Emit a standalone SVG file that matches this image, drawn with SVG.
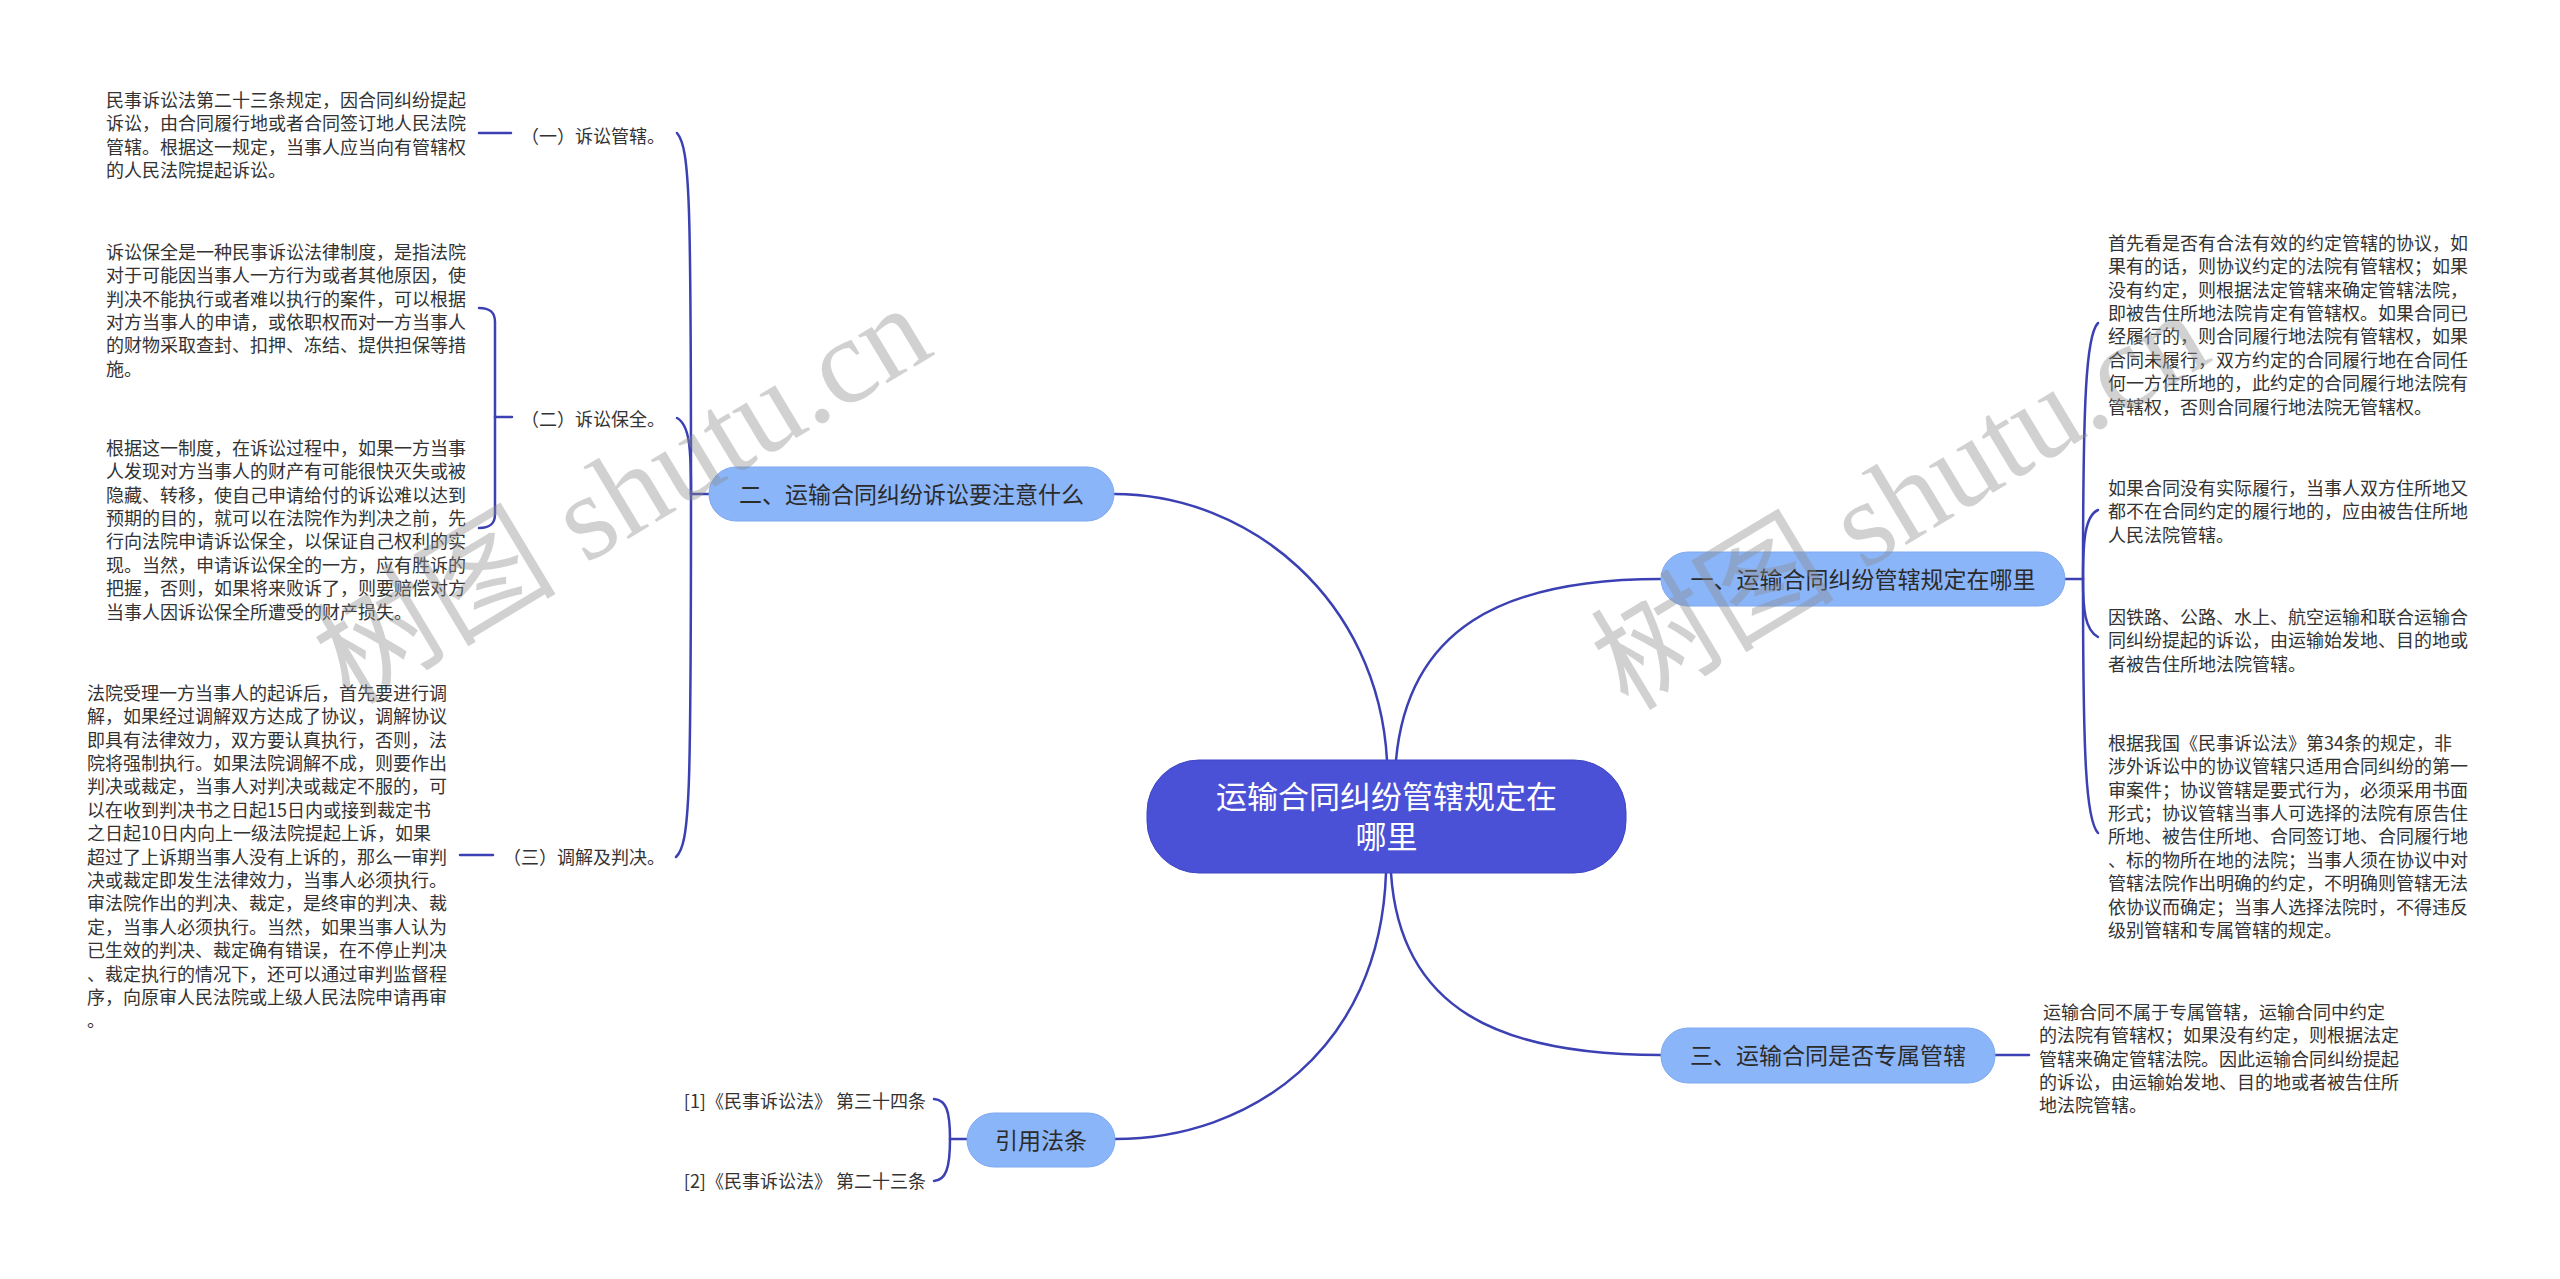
<svg xmlns="http://www.w3.org/2000/svg" width="2560" height="1279" viewBox="0 0 2560 1279">
<style>
.bg{fill:#ffffff}
.c{fill:none;stroke:#3b40b3;stroke-width:2.5;stroke-linecap:round}
.main{fill:#4a51d6;stroke:#3f46c4;stroke-width:1}
.sub{fill:#8bb5f9;stroke:#7ea9ef;stroke-width:1}
.t{font-family:"Noto Sans CJK SC","Noto Sans",sans-serif;font-size:18px;fill:#333333}
.nt{font-family:"Noto Sans CJK SC","Noto Sans",sans-serif;font-size:23px;fill:#2b2b2b;text-anchor:middle}
.mt{font-family:"Noto Sans CJK SC","Noto Sans",sans-serif;font-size:31px;fill:#ffffff;text-anchor:middle}
.wm{font-family:"Liberation Serif","Noto Sans CJK SC",serif;font-size:122px;fill:#8c8c8c;fill-opacity:0.4}
</style>
<rect class="bg" x="0" y="0" width="2560" height="1279"/>

<g id="connectors">
  <!-- center to level 1 -->
  <path class="c" d="M1387 760 C1378 600,1250 494,1114 494"/>
  <path class="c" d="M1396 760 C1408 630,1500 579,1661 579"/>
  <path class="c" d="M1391 873 C1400 1010,1500 1055,1661 1055"/>
  <path class="c" d="M1386 873 C1380 1050,1250 1139,1115 1139"/>
  <!-- node 二 bracket -->
  <path class="c" d="M709 494 H691"/>
  <path class="c" d="M691 494 C691 200,690 148,677 133"/>
  <path class="c" d="M691 494 C691 450,690 425,677 418"/>
  <path class="c" d="M691 494 C691 800,690 843,676 857"/>
  <!-- (一) -->
  <path class="c" d="M479 133 H511"/>
  <!-- (二) bracket -->
  <path class="c" d="M512 417 H495"/>
  <path class="c" d="M495 417 V322 C495 312,490 308,479 308"/>
  <path class="c" d="M495 417 V514 C495 524,490 528,479 528"/>
  <!-- (三) -->
  <path class="c" d="M460 855 H493"/>
  <!-- node 一 bracket -->
  <path class="c" d="M2065 579 H2083"/>
  <path class="c" d="M2083 579 C2083 400,2086 335,2098 323"/>
  <path class="c" d="M2083 579 C2083 540,2085 516,2098 510"/>
  <path class="c" d="M2083 579 C2083 610,2085 630,2098 637"/>
  <path class="c" d="M2083 579 C2083 760,2086 820,2098 833"/>
  <!-- node 三 -->
  <path class="c" d="M1995 1055 H2029"/>
  <!-- 引用法条 bracket -->
  <path class="c" d="M967 1139 H950"/>
  <path class="c" d="M950 1139 C950 1110,946 1100,934 1099"/>
  <path class="c" d="M950 1139 C950 1168,946 1180,934 1181"/>
</g>

<g id="node-center">
  <rect class="main" x="1147" y="760" width="479" height="113" rx="52"/>
  <text class="mt" x="1386.5" y="808">运输合同纠纷管辖规定在</text>
  <text class="mt" x="1386.5" y="848">哪里</text>
</g>

<g id="node-2">
  <rect class="sub" x="709" y="467" width="405" height="54" rx="27"/>
  <text class="nt" x="911.5" y="502.5">二、运输合同纠纷诉讼要注意什么</text>
</g>

<g id="node-1">
  <rect class="sub" x="1661" y="552" width="404" height="54" rx="27"/>
  <text class="nt" x="1863" y="587.5">一、运输合同纠纷管辖规定在哪里</text>
</g>

<g id="node-3">
  <rect class="sub" x="1661" y="1028" width="334" height="55" rx="27"/>
  <text class="nt" x="1828" y="1064">三、运输合同是否专属管辖</text>
</g>

<g id="node-ref">
  <rect class="sub" x="967" y="1113" width="148" height="54" rx="27"/>
  <text class="nt" x="1041" y="1148.5">引用法条</text>
</g>

<g id="label-2-1">
  <text class="t" x="665" y="143" text-anchor="end">（一）诉讼管辖。</text>
</g>
<g id="label-2-2">
  <text class="t" x="665" y="426" text-anchor="end">（二）诉讼保全。</text>
</g>
<g id="label-2-3">
  <text class="t" x="665" y="864" text-anchor="end">（三）调解及判决。</text>
</g>

<g id="text-2-1">
  <text class="t" x="106" y="106.8">
    <tspan x="106" dy="0">民事诉讼法第二十三条规定，因合同纠纷提起</tspan>
    <tspan x="106" dy="23.4">诉讼，由合同履行地或者合同签订地人民法院</tspan>
    <tspan x="106" dy="23.4">管辖。根据这一规定，当事人应当向有管辖权</tspan>
    <tspan x="106" dy="23.4">的人民法院提起诉讼。</tspan>
  </text>
</g>

<g id="text-2-2a">
  <text class="t" x="106" y="258.8">
    <tspan x="106" dy="0">诉讼保全是一种民事诉讼法律制度，是指法院</tspan>
    <tspan x="106" dy="23.4">对于可能因当事人一方行为或者其他原因，使</tspan>
    <tspan x="106" dy="23.4">判决不能执行或者难以执行的案件，可以根据</tspan>
    <tspan x="106" dy="23.4">对方当事人的申请，或依职权而对一方当事人</tspan>
    <tspan x="106" dy="23.4">的财物采取查封、扣押、冻结、提供担保等措</tspan>
    <tspan x="106" dy="23.4">施。</tspan>
  </text>
</g>

<g id="text-2-2b">
  <text class="t" x="106" y="454.8">
    <tspan x="106" dy="0">根据这一制度，在诉讼过程中，如果一方当事</tspan>
    <tspan x="106" dy="23.4">人发现对方当事人的财产有可能很快灭失或被</tspan>
    <tspan x="106" dy="23.4">隐藏、转移，使自己申请给付的诉讼难以达到</tspan>
    <tspan x="106" dy="23.4">预期的目的，就可以在法院作为判决之前，先</tspan>
    <tspan x="106" dy="23.4">行向法院申请诉讼保全，以保证自己权利的实</tspan>
    <tspan x="106" dy="23.4">现。当然，申请诉讼保全的一方，应有胜诉的</tspan>
    <tspan x="106" dy="23.4">把握，否则，如果将来败诉了，则要赔偿对方</tspan>
    <tspan x="106" dy="23.4">当事人因诉讼保全所遭受的财产损失。</tspan>
  </text>
</g>

<g id="text-2-3">
  <text class="t" x="87" y="699.8">
    <tspan x="87" dy="0">法院受理一方当事人的起诉后，首先要进行调</tspan>
    <tspan x="87" dy="23.4">解，如果经过调解双方达成了协议，调解协议</tspan>
    <tspan x="87" dy="23.4">即具有法律效力，双方要认真执行，否则，法</tspan>
    <tspan x="87" dy="23.4">院将强制执行。如果法院调解不成，则要作出</tspan>
    <tspan x="87" dy="23.4">判决或裁定，当事人对判决或裁定不服的，可</tspan>
    <tspan x="87" dy="23.4">以在收到判决书之日起15日内或接到裁定书</tspan>
    <tspan x="87" dy="23.4">之日起10日内向上一级法院提起上诉，如果</tspan>
    <tspan x="87" dy="23.4">超过了上诉期当事人没有上诉的，那么一审判</tspan>
    <tspan x="87" dy="23.4">决或裁定即发生法律效力，当事人必须执行。</tspan>
    <tspan x="87" dy="23.4">审法院作出的判决、裁定，是终审的判决、裁</tspan>
    <tspan x="87" dy="23.4">定，当事人必须执行。当然，如果当事人认为</tspan>
    <tspan x="87" dy="23.4">已生效的判决、裁定确有错误，在不停止判决</tspan>
    <tspan x="87" dy="23.4">、裁定执行的情况下，还可以通过审判监督程</tspan>
    <tspan x="87" dy="23.4">序，向原审人民法院或上级人民法院申请再审</tspan>
    <tspan x="87" dy="23.4">。</tspan>
  </text>
</g>

<g id="text-1-1">
  <text class="t" x="2108" y="249.8">
    <tspan x="2108" dy="0">首先看是否有合法有效的约定管辖的协议，如</tspan>
    <tspan x="2108" dy="23.4">果有的话，则协议约定的法院有管辖权；如果</tspan>
    <tspan x="2108" dy="23.4">没有约定，则根据法定管辖来确定管辖法院，</tspan>
    <tspan x="2108" dy="23.4">即被告住所地法院肯定有管辖权。如果合同已</tspan>
    <tspan x="2108" dy="23.4">经履行的，则合同履行地法院有管辖权，如果</tspan>
    <tspan x="2108" dy="23.4">合同未履行，双方约定的合同履行地在合同任</tspan>
    <tspan x="2108" dy="23.4">何一方住所地的，此约定的合同履行地法院有</tspan>
    <tspan x="2108" dy="23.4">管辖权，否则合同履行地法院无管辖权。</tspan>
  </text>
</g>

<g id="text-1-2">
  <text class="t" x="2108" y="494.8">
    <tspan x="2108" dy="0">如果合同没有实际履行，当事人双方住所地又</tspan>
    <tspan x="2108" dy="23.4">都不在合同约定的履行地的，应由被告住所地</tspan>
    <tspan x="2108" dy="23.4">人民法院管辖。</tspan>
  </text>
</g>

<g id="text-1-3">
  <text class="t" x="2108" y="623.8">
    <tspan x="2108" dy="0">因铁路、公路、水上、航空运输和联合运输合</tspan>
    <tspan x="2108" dy="23.4">同纠纷提起的诉讼，由运输始发地、目的地或</tspan>
    <tspan x="2108" dy="23.4">者被告住所地法院管辖。</tspan>
  </text>
</g>

<g id="text-1-4">
  <text class="t" x="2108" y="749.8">
    <tspan x="2108" dy="0">根据我国《民事诉讼法》第34条的规定，非</tspan>
    <tspan x="2108" dy="23.4">涉外诉讼中的协议管辖只适用合同纠纷的第一</tspan>
    <tspan x="2108" dy="23.4">审案件；协议管辖是要式行为，必须采用书面</tspan>
    <tspan x="2108" dy="23.4">形式；协议管辖当事人可选择的法院有原告住</tspan>
    <tspan x="2108" dy="23.4">所地、被告住所地、合同签订地、合同履行地</tspan>
    <tspan x="2108" dy="23.4">、标的物所在地的法院；当事人须在协议中对</tspan>
    <tspan x="2108" dy="23.4">管辖法院作出明确的约定，不明确则管辖无法</tspan>
    <tspan x="2108" dy="23.4">依协议而确定；当事人选择法院时，不得违反</tspan>
    <tspan x="2108" dy="23.4">级别管辖和专属管辖的规定。</tspan>
  </text>
</g>

<g id="text-3-1">
  <text class="t" x="2039" y="1018.8" xml:space="preserve"><tspan x="2039" dy="0"> 运输合同不属于专属管辖，运输合同中约定</tspan><tspan x="2039" dy="23.4">的法院有管辖权；如果没有约定，则根据法定</tspan><tspan x="2039" dy="23.4">管辖来确定管辖法院。因此运输合同纠纷提起</tspan><tspan x="2039" dy="23.4">的诉讼，由运输始发地、目的地或者被告住所</tspan><tspan x="2039" dy="23.4">地法院管辖。</tspan></text>
</g>

<g id="ref-1">
  <text class="t" x="926" y="1108" text-anchor="end">[1]《民事诉讼法》 第三十四条</text>
</g>
<g id="ref-2">
  <text class="t" x="926" y="1188" text-anchor="end">[2]《民事诉讼法》 第二十三条</text>
</g>

<g id="watermarks">
  <text class="wm" transform="translate(350 706) rotate(-31)">树图 shutu.cn</text>
  <text class="wm" transform="translate(1628 712) rotate(-31)">树图 shutu.cn</text>
</g>
</svg>
